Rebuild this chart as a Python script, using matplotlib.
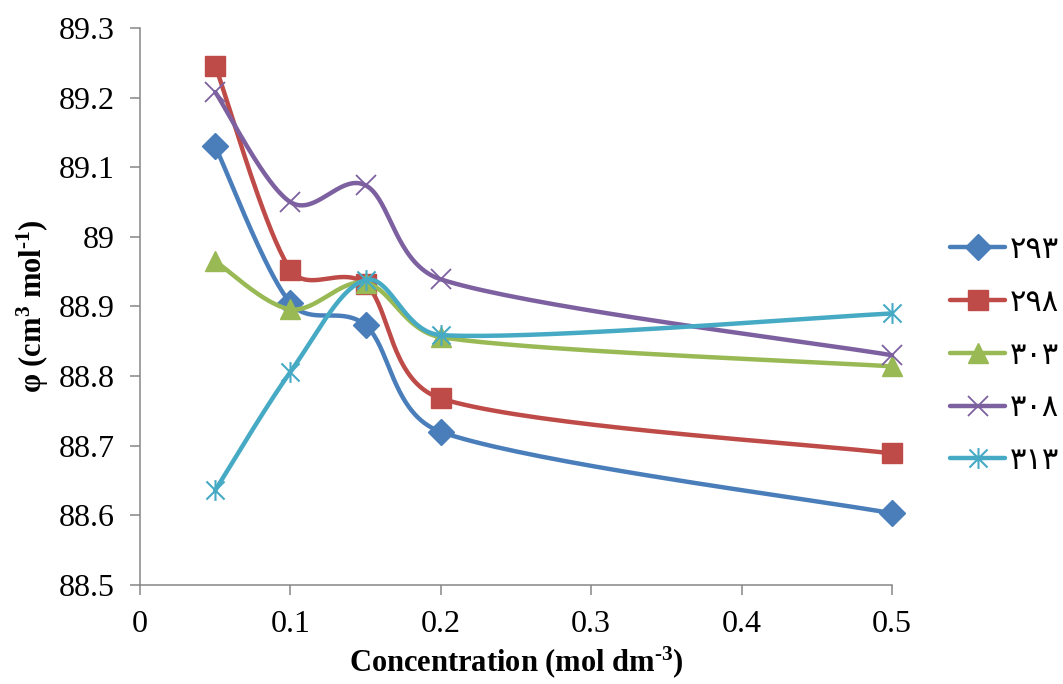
import numpy as np
import matplotlib
matplotlib.use("Agg")
import matplotlib.pyplot as plt
from matplotlib.lines import Line2D
from matplotlib.path import Path
from matplotlib.ticker import FuncFormatter

plt.rcParams['font.family'] = ['Liberation Serif', 'DejaVu Sans']
plt.rcParams['mathtext.default'] = 'regular'

# data
conc = [0.05, 0.1, 0.15, 0.2, 0.5]
phi_293 = [89.130, 88.905, 88.873, 88.720, 88.603]
phi_298 = [89.246, 88.953, 88.932, 88.768, 88.689]
phi_303 = [88.965, 88.896, 88.934, 88.856, 88.814]
phi_308 = [89.208, 89.050, 89.074, 88.939, 88.830]
phi_313 = [88.636, 88.806, 88.938, 88.859, 88.890]
labels = ['٢٩٣', '٢٩٨', '٣٠٣', '٣٠٨', '٣١٣']
x_ticks = [0, 0.1, 0.2, 0.3, 0.4, 0.5]
y_ticks = [88.5, 88.6, 88.7, 88.8, 88.9, 89.0, 89.1, 89.2, 89.3]

colors = ['#4A7EBB', '#BE4B48', '#98B954', '#7D60A0', '#46AAC5']

# asterisk marker like the one excel uses
star = Path([(-1, -1), (1, 1), (-1, 1), (1, -1), (0, -1.15), (0, 1.15)],
            [Path.MOVETO, Path.LINETO, Path.MOVETO, Path.LINETO, Path.MOVETO, Path.LINETO])
markers = [('D', 13, 1), ('s', 14, 1), ('^', 14, 1), ('x', 14, 1.3), (star, 15, 1.5)]


def cap(arm, seg_len, k=0.4):
    n = np.hypot(*arm)
    if n > k * seg_len:
        arm = arm * (k * seg_len / n)
    return arm


def smooth(ax, x, y, n=40):
    # excel style smoothed line, done in screen space
    pts = ax.transData.transform(np.column_stack([x, y]))
    p = np.vstack([pts[0], pts, pts[-1]])
    t = np.linspace(0, 1, n)[:, None]
    out = []
    for i in range(1, len(p) - 2):
        p0, p1, p2, p3 = p[i - 1], p[i], p[i + 1], p[i + 2]
        L = np.hypot(*(p2 - p1))
        c1 = p1 + cap((p2 - p0) / 6, L)
        c2 = p2 - cap((p3 - p1) / 6, L)
        seg = (1 - t) ** 3 * p1 + 3 * (1 - t) ** 2 * t * c1 + 3 * (1 - t) * t ** 2 * c2 + t ** 3 * p2
        out.append(seg if i == 1 else seg[1:])
    return ax.transData.inverted().transform(np.vstack(out))


fig = plt.figure(figsize=(10.63, 6.84), dpi=100)
ax = fig.add_axes([140 / 1063, 1 - 585 / 684, 752 / 1063, 557 / 684])
ax.set_xlim(0, 0.5)
ax.set_ylim(88.5, 89.3)

series = [phi_293, phi_298, phi_303, phi_308, phi_313]
handles = []
for vals, col, (m, ms, mew) in zip(series, colors, markers):
    curve = smooth(ax, conc, vals)
    ax.plot(curve[:, 0], curve[:, 1], color=col, lw=3.2, solid_capstyle='round', clip_on=False)
    ax.plot(conc, vals, linestyle='none', marker=m, ms=ms, mew=mew,
            color=col, mec=col, mfc=col, clip_on=False)
    handles.append(Line2D([], [], color=col, lw=3.2, solid_capstyle='round',
                          marker=m, ms=ms, mew=mew, mec=col, mfc=col))

for side in ['top', 'right']:
    ax.spines[side].set_visible(False)
for side in ['left', 'bottom']:
    ax.spines[side].set_color('#868686')
    ax.spines[side].set_linewidth(1.1)

ax.set_xticks(x_ticks)
ax.set_yticks(y_ticks)
fmt = FuncFormatter(lambda v, pos: f"{v:g}")
ax.xaxis.set_major_formatter(fmt)
ax.yaxis.set_major_formatter(fmt)
ax.tick_params(axis='both', which='major', direction='out', length=7, width=1.1,
               color='#868686', labelsize=23, pad=11)

ax.set_xlabel('Concentration (mol dm$^{\u20103}$)', fontsize=22, fontweight='bold', labelpad=4)
ax.set_ylabel('φ (cm$^{3}$ mol$^{\u20101}$)', fontsize=22, fontweight='bold', labelpad=6)

ax.legend(handles, labels, loc='center left', bbox_to_anchor=(950 / 1063, 1 - 356 / 684),
          bbox_transform=fig.transFigure, frameon=False,
          handlelength=1.8, handletextpad=0.15, labelspacing=0.78, borderpad=0,
          borderaxespad=0, prop={'family': ['Liberation Serif', 'DejaVu Sans'], 'size': 22})

fig.savefig('out.png', dpi=100)
